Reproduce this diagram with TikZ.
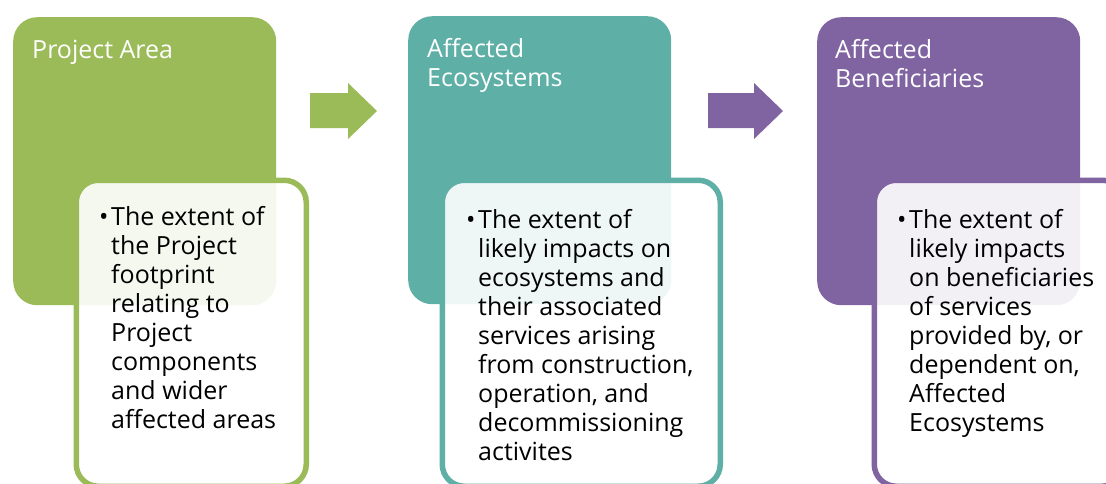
\documentclass[tikz,border=0pt]{standalone}
\usepackage{fontspec}
\setmainfont{Open Sans}
\definecolor{cgreen}{HTML}{9BBB59}
\definecolor{cteal}{HTML}{5EAFA6}
\definecolor{cpurple}{HTML}{8064A2}
\tikzset{
  mainbox/.style={rounded corners=24pt, anchor=north west, inner sep=0pt, minimum width=263pt, minimum height=288pt},
  subbox/.style={rounded corners=22pt, anchor=north west, inner sep=0pt, line width=5.5pt, fill=white, fill opacity=0.9},
  title/.style={text=white, font=\fontsize{25}{29}\selectfont, anchor=base west, inner sep=0pt, align=left},
  body/.style={text=black, font=\fontsize{25}{29}\selectfont, anchor=north west, inner sep=0pt, align=left},
  bul/.style={text=black, font=\fontsize{25}{29}\selectfont, anchor=base west, inner sep=0pt},
}
\begin{document}
\begin{tikzpicture}[x=1pt,y=-1pt]
\useasboundingbox (0,0) rectangle (1106,483);
% boxes
\node[mainbox, fill=cgreen] (b1) at (13,17) {};
\node[mainbox, fill=cteal] (b2) at (408,16) {};
\node[mainbox, fill=cpurple] (b3) at (817,17) {};
% titles
\node[title] (t1) at (32,58) {Project Area};
\node[title] (t2) at (427,86) {Affected\\Ecosystems};
\node[title] (t3) at (835,87) {Affected\\Beneficiaries};
% arrows
\fill[cgreen] (310,93) -- (348,93) -- (348,83) -- (377,111) -- (348,139) -- (348,128) -- (310,128) -- cycle;
\fill[cpurple] (708,93) -- (754,93) -- (754,83) -- (783,111) -- (754,139) -- (754,128) -- (708,128) -- cycle;
% sub boxes
\node[subbox, draw=cgreen, minimum width=230pt, minimum height=306pt] (s1) at (73.5,177.5) {};
\node[subbox, draw=cteal, minimum width=278pt, minimum height=306pt] (s2) at (439.5,177.5) {};
\node[subbox, draw=cpurple, minimum width=250pt, minimum height=306pt] (s3) at (871.5,177.5) {};
% bullets
\node[bul] (u1) at (99,225) {•};
\node[bul] (u2) at (466,228) {•};
\node[bul] (u3) at (897,228) {•};
% body texts
\node[body] (x1) at (111,206) {The extent of\\the Project\\footprint\\relating to\\Project\\components\\and wider\\affected areas};
\node[body] (x2) at (478,209) {The extent of\\likely impacts on\\ecosystems and\\their associated\\services arising\\from construction,\\operation, and\\decommissioning\\activites};
\node[body] (x3) at (909,209) {The extent of\\likely impacts\\on beneficiaries\\of services\\provided by, or\\dependent on,\\Affected\\Ecosystems};
\end{tikzpicture}
\end{document}
